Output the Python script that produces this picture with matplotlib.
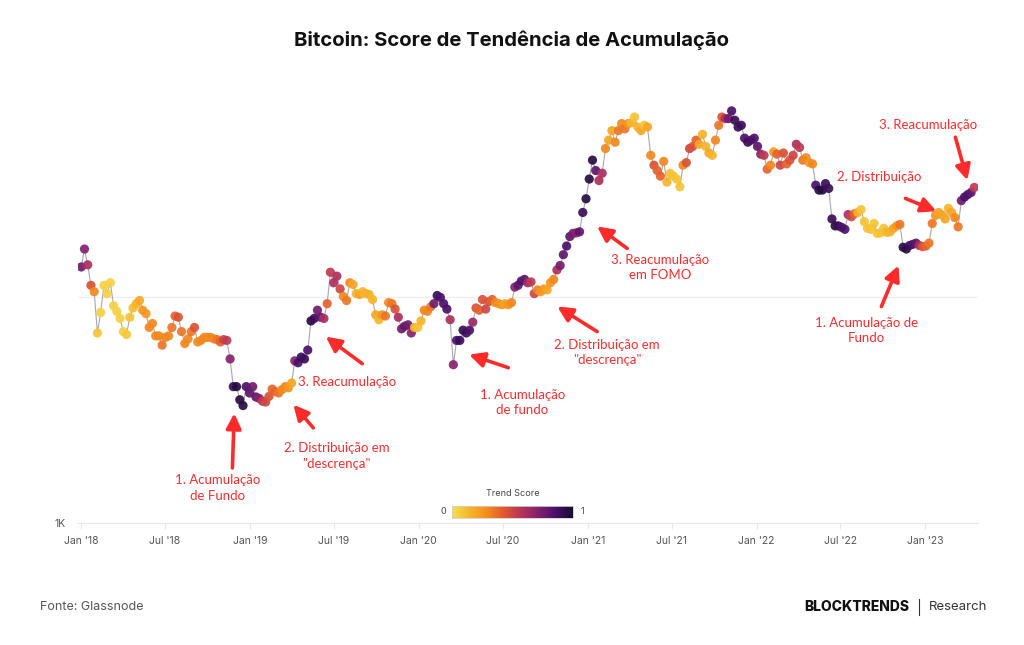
import matplotlib
matplotlib.use("Agg")
import matplotlib.pyplot as plt
from matplotlib.colors import LinearSegmentedColormap
from matplotlib.lines import Line2D
import numpy as np
import pandas as pd

# ---------------- data (weekly, Mondays from 2018-01-01) ----------------
price_2018 = [13500, 16200, 13800, 11200, 10500, 6900, 8500, 11200, 10300, 11500,
              9100, 8600, 8000, 7000, 6800, 8100, 8900, 9300, 9600, 8700,
              8400, 7300, 7600, 6700, 6700, 6100, 6600, 6700, 7300, 8200,
              8100, 7000, 6200, 6500, 7000, 7300, 6300, 6400, 6600, 6600,
              6600, 6500, 6450, 6300, 6450, 6400, 5300, 4000, 4000, 3500,
              3300, 4000, 3750]
score_2018 = [0.75, 0.7, 0.6, 0.45, 0.3, 0.1, 0.05, 0.05, 0.05, 0.05,
              0.05, 0.05, 0.05, 0.05, 0.08, 0.1, 0.12, 0.15, 0.2, 0.25,
              0.25, 0.3, 0.3, 0.3, 0.3, 0.35, 0.3, 0.3, 0.35, 0.4,
              0.45, 0.35, 0.3, 0.3, 0.35, 0.45, 0.3, 0.3, 0.3, 0.3,
              0.3, 0.3, 0.35, 0.4, 0.5, 0.55, 0.7, 0.9, 0.95, 0.95,
              0.95, 0.85, 0.8]

price_2019 = [4000, 3600, 3550, 3450, 3420, 3620, 3900, 3800, 3750, 3880,
              4000, 3950, 4150, 5200, 5100, 5400, 5300, 5800, 7800, 8000,
              8700, 8100, 8000, 9300, 12800, 11500, 12300, 10800, 10000, 9600,
              11500, 11300, 10300, 10200, 10500, 10300, 10200, 9700, 8300, 7900,
              8300, 8200, 9400, 9300, 8800, 8100, 7200, 7400, 7500, 6900,
              7300, 7300]
score_2019 = [0.75, 0.8, 0.7, 0.55, 0.5, 0.45, 0.4, 0.4, 0.35, 0.3,
              0.3, 0.25, 0.2, 0.7, 0.85, 0.9, 0.9, 0.85, 0.95, 0.9,
              0.75, 0.8, 0.6, 0.4, 0.55, 0.6, 0.6, 0.5, 0.3, 0.35,
              0.3, 0.2, 0.15, 0.2, 0.15, 0.15, 0.15, 0.15, 0.2, 0.15,
              0.25, 0.35, 0.3, 0.35, 0.45, 0.6, 0.75, 0.8, 0.75, 0.7,
              0.15, 0.1]

price_2020 = [7800, 8700, 8600, 9000, 9300, 10100, 9900, 9300, 8800, 7900,
              5000, 6400, 6400, 7100, 6900, 7100, 7700, 8900, 8700, 9700,
              8800, 9500, 9700, 9400, 9300, 9200, 9300, 9200, 9400, 11000,
              11200, 11700, 11900, 11500, 11600, 10300, 10700, 10500, 10800, 10700,
              11500, 11900, 13100, 13700, 15300, 16700, 18400, 19000, 19100, 19300,
              23500, 27000]
score_2020 = [0.15, 0.3, 0.3, 0.35, 0.75, 0.9, 0.85, 0.85, 0.85, 0.6,
              0.7, 0.85, 0.9, 0.9, 0.9, 0.85, 0.65, 0.45, 0.4, 0.45,
              0.5, 0.45, 0.4, 0.3, 0.25, 0.25, 0.2, 0.25, 0.3, 0.7,
              0.8, 0.85, 0.8, 0.65, 0.55, 0.5, 0.3, 0.25, 0.25, 0.2,
              0.25, 0.3, 0.6, 0.75, 0.8, 0.85, 0.8, 0.75, 0.7, 0.8,
              0.9, 0.95]

price_2021 = [33000, 40000, 36000, 32500, 35000, 45000, 49000, 54000, 48000, 54000,
              58000, 55000, 58000, 58500, 62000, 56000, 54000, 57000, 56000, 42000,
              38000, 36000, 34000, 39500, 32000, 35000, 34000, 33000, 30500, 38000,
              39000, 45000, 46000, 49000, 47000, 52000, 46000, 43000, 42000, 49000,
              57000, 62000, 61000, 61000, 66000, 60000, 56000, 57000, 50000, 48000,
              49000, 50000]
score_2021 = [0.95, 0.95, 0.8, 0.6, 0.6, 0.3, 0.2, 0.2, 0.3, 0.35,
              0.3, 0.35, 0.25, 0.15, 0.1, 0.15, 0.2, 0.1, 0.2, 0.3,
              0.45, 0.4, 0.4, 0.3, 0.15, 0.1, 0.1, 0.1, 0.1, 0.3,
              0.45, 0.5, 0.45, 0.4, 0.2, 0.15, 0.15, 0.2, 0.15, 0.3,
              0.35, 0.45, 0.6, 0.75, 0.85, 0.9, 0.9, 0.9, 0.85, 0.9,
              0.85, 0.85]

price_2022 = [46000, 42500, 42000, 36500, 38000, 43500, 42500, 38000, 43000, 38500,
              40000, 42000, 47000, 45500, 40000, 41000, 39000, 38500, 31000, 29500,
              29500, 31500, 30000, 22000, 20500, 20500, 20200, 19800, 23000, 22500,
              23200, 23500, 24200, 21400, 20000, 19800, 21000, 19000, 19100, 20000,
              19200, 19300, 20000, 20500, 20800, 16500, 16200, 16800, 17000, 17200,
              16800, 16600]
score_2022 = [0.8, 0.7, 0.55, 0.4, 0.3, 0.25, 0.4, 0.5, 0.45, 0.4,
              0.45, 0.5, 0.6, 0.55, 0.35, 0.3, 0.25, 0.3, 0.85, 0.95,
              0.95, 0.9, 0.9, 0.9, 0.95, 0.9, 0.85, 0.85, 0.6, 0.5,
              0.4, 0.15, 0.1, 0.1, 0.1, 0.1, 0.1, 0.1, 0.1, 0.1,
              0.15, 0.15, 0.2, 0.25, 0.35, 0.95, 0.95, 0.9, 0.85, 0.8,
              0.6, 0.45]

price_2023 = [16700, 17200, 21000, 22800, 23500, 22900, 22000, 24500, 23500, 22300,
              20300, 26500, 27500, 28200, 28800, 30300]
score_2023 = [0.4, 0.35, 0.35, 0.25, 0.2, 0.2, 0.2, 0.15, 0.2, 0.3,
              0.35, 0.75, 0.85, 0.85, 0.8, 0.55]

tick_dates = ["2018-01-01", "2018-07-01", "2019-01-01", "2019-07-01", "2020-01-01",
              "2020-07-01", "2021-01-01", "2021-07-01", "2022-01-01", "2022-07-01",
              "2023-01-01"]
tick_labels = ["Jan '18", "Jul '18", "Jan '19", "Jul '19", "Jan '20", "Jul '20",
               "Jan '21", "Jul '21", "Jan '22", "Jul '22", "Jan '23"]

prices = np.array(price_2018 + price_2019 + price_2020 + price_2021 + price_2022 + price_2023, float)
scores = np.array(score_2018 + score_2019 + score_2020 + score_2021 + score_2022 + score_2023, float)
dates = pd.date_range("2018-01-01", periods=len(prices), freq="7D")

# ---------------- style ----------------
cmap = LinearSegmentedColormap.from_list(
    "trend", ["#f6df4f", "#f7b62a", "#f58d1e", "#e2582f", "#b8345a",
              "#82206f", "#4a106a", "#160b30"])
RED = "#ff2b2b"
ANN_FONT = ["Lato", "DejaVu Sans"]
UI_FONT = ["Inter", "DejaVu Sans"]

W, H = 1024, 645
fig = plt.figure(figsize=(W / 100, H / 100), dpi=100)
ax = fig.add_axes([78 / W, (H - 523) / H, 900 / W, (523 - 70) / H])

ax.plot(dates, prices, color="#a8a8a8", lw=0.8, zorder=2)
ax.scatter(dates, prices, c=scores, cmap=cmap, vmin=0, vmax=1, s=44,
           edgecolors="none", alpha=0.92, zorder=3)

ax.set_yscale("log")
ax.set_ylim(1000, 100000)
ax.set_xlim(pd.Timestamp("2017-12-25"), pd.Timestamp("2023-04-25"))
ax.set_yticks([1000])
ax.set_yticklabels(["1K"])
ax.yaxis.set_minor_locator(matplotlib.ticker.NullLocator())
ax.axhline(10000, color="#efefef", lw=1.0, zorder=0)
ax.set_xticks(pd.to_datetime(tick_dates))
ax.set_xticklabels(tick_labels)
ax.tick_params(axis="x", length=4, color="#e8e8e8", labelsize=7.5,
               labelcolor="#555555", pad=5)
ax.tick_params(axis="y", length=0, labelsize=7.5, labelcolor="#555555", pad=9)
for lab in ax.get_xticklabels() + ax.get_yticklabels():
    lab.set_family(UI_FONT)
for side in ["left", "right", "top"]:
    ax.spines[side].set_visible(False)
ax.spines["bottom"].set_color("#e6e6e6")

# ---------------- annotations ----------------
T = pd.Timestamp
annots = [
    ("1. Acumulação\nde Fundo", (T("2018-10-22"), 1430), (T("2018-11-24"), 1750), (T("2018-11-28"), 3050)),
    ("2. Distribuição em\n\"descrença\"", (T("2019-07-07"), 1980), (T("2019-05-18"), 2630), (T("2019-04-05"), 3330)),
    ("3. Reacumulação", (T("2019-07-30"), 4200), (T("2019-09-01"), 5050), (T("2019-06-14"), 6650)),
    ("1. Acumulação\nde fundo", (T("2020-08-12"), 3400), (T("2020-07-13"), 4850), (T("2020-04-19"), 5540)),
    ("2. Distribuição em\n\"descrença\"", (T("2021-02-12"), 5650), (T("2021-01-21"), 7000), (T("2020-10-27"), 9030)),
    ("3. Reacumulação\nem FOMO", (T("2021-06-07"), 13400), (T("2021-03-27"), 16300), (T("2021-01-21"), 20400)),
    ("1. Acumulação de\nFundo", (T("2022-08-26"), 7070), (T("2022-09-28"), 9030), (T("2022-11-04"), 13700)),
    ("2. Distribuição", (T("2022-09-24"), 33600), (T("2022-11-19"), 27100), (T("2023-01-25"), 23800)),
    ("3. Reacumulação", (T("2023-01-08"), 57100), (T("2023-03-07"), 50500), (T("2023-04-02"), 32600)),
]
for text, tpos, tail, tip in annots:
    ax.text(tpos[0], tpos[1], text, color=RED, fontsize=9.5, family=ANN_FONT,
            ha="center", va="center", linespacing=1.35, zorder=5)
    ax.annotate("", xy=tip, xytext=tail,
                arrowprops=dict(arrowstyle="-|>,head_length=0.9,head_width=0.45",
                                color=RED, lw=2.6, shrinkA=0, shrinkB=0),
                zorder=5)

# ---------------- colorbar legend ----------------
cax = fig.add_axes([452 / W, (H - 518) / H, 121 / W, 12 / H])
grad = np.linspace(0, 1, 256).reshape(1, -1)
cax.imshow(grad, aspect="auto", cmap=cmap, extent=[0, 1, 0, 1])
cax.set_xticks([])
cax.set_yticks([])
for s in cax.spines.values():
    s.set_color("#d0d0d0")
    s.set_linewidth(0.6)
fig.text(513 / W, 1 - 494 / H, "Trend Score", ha="center", va="center",
         fontsize=6.5, color="#444444", family=UI_FONT)
fig.text(443 / W, 1 - 512 / H, "0", ha="center", va="center",
         fontsize=6.5, color="#444444", family=UI_FONT)
fig.text(582 / W, 1 - 512 / H, "1", ha="center", va="center",
         fontsize=6.5, color="#444444", family=UI_FONT)

# ---------------- title & footer ----------------
fig.text(0.5, 1 - 40 / H, "Bitcoin: Score de Tendência de Acumulação",
         ha="center", va="center", fontsize=14.6, fontweight="bold",
         color="#111111", family=UI_FONT)
fig.text(40 / W, 1 - 607 / H, "Fonte: Glassnode", ha="left", va="center",
         fontsize=9, color="#555555", family=UI_FONT)
fig.text(909 / W, 1 - 607 / H, "BLOCKTRENDS", ha="right", va="center",
         fontsize=10, fontweight="heavy", color="#111111", family=UI_FONT)
fig.add_artist(Line2D([919 / W, 919 / W], [1 - 599 / H, 1 - 615 / H],
                      transform=fig.transFigure, color="#333333", lw=0.8))
fig.text(929 / W, 1 - 607 / H, "Research", ha="left", va="center",
         fontsize=9.5, color="#333333", family=UI_FONT)

fig.savefig("out.png", dpi=100)
